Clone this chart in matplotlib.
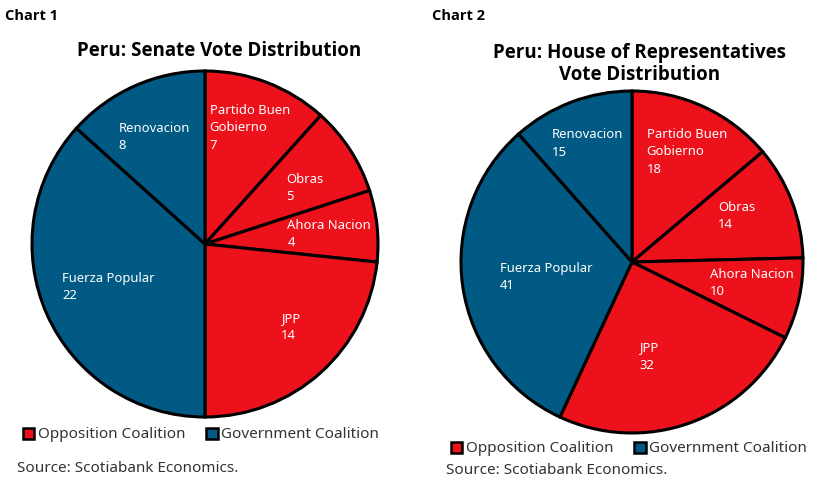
import numpy as np
import matplotlib
matplotlib.use("Agg")
import matplotlib.pyplot as plt
from matplotlib.patches import Patch

plt.rcParams['font.family'] = ['Noto Sans', 'DejaVu Sans']

RED = '#EC111A'
BLUE = '#005A84'

parties = ["Partido Buen\nGobierno", "Obras", "Ahora Nacion", "JPP", "Fuerza Popular", "Renovacion"]
coalition = ["opp", "opp", "opp", "opp", "gov", "gov"]
senate_seats = [7, 5, 4, 14, 22, 8]
house_seats = [18, 14, 10, 32, 41, 15]

# in-slice label placement: fraction of radius, angle shift from slice middle (deg)
senate_label_r = [0.72, 0.66, 0.72, 0.69, 0.61, 0.685]
senate_label_da = [0, -3.5, -1.4, 4, 0, 1.5]
house_label_r = [0.72, 0.67, 0.71, 0.56, 0.51, 0.74]
house_label_da = [-1.5, 3, 2.5, -9.4, 1.7, 0]

colors = [RED if c == "opp" else BLUE for c in coalition]


def draw_pie(ax, seats, label_r, label_da):
    wedges, _ = ax.pie(seats, colors=colors, startangle=90, counterclock=False,
                       wedgeprops=dict(edgecolor='black', linewidth=2.2))
    for w, name, n, r, da in zip(wedges, parties, seats, label_r, label_da):
        mid = np.deg2rad((w.theta1 + w.theta2) / 2 + da)
        ax.text(r*np.cos(mid), r*np.sin(mid), "%s\n%d" % (name, n), color='white',
                ha='center', va='center', multialignment='left', fontsize=9.4,
                linespacing=1.45)
    ax.set_xlim(-1.01, 1.01)
    ax.set_ylim(-1.01, 1.01)
    ax.set_aspect('equal')
    ax.axis('off')


fig = plt.figure(figsize=(8.28, 4.83), dpi=100)
W, H = 828, 483


def px_axes(cx, cy, r):
    r = r*1.01
    return fig.add_axes([(cx - r)/W, 1 - (cy + r)/H, 2*r/W, 2*r/H])


ax1 = px_axes(205, 244, 173)
draw_pie(ax1, senate_seats, senate_label_r, senate_label_da)
ax2 = px_axes(632, 262, 171)
draw_pie(ax2, house_seats, house_label_r, house_label_da)

bold = dict(family='Open Sans', fontweight='bold')
fig.text(5/W, 1 - 16/H, "Chart 1", fontsize=10.5, va='center', **bold)
fig.text(432/W, 1 - 16/H, "Chart 2", fontsize=10.5, va='center', **bold)
fig.text(219/W, 1 - 51/H, "Peru: Senate Vote Distribution", fontsize=13.5,
         ha='center', va='center', **bold)
fig.text(639.5/W, 1 - 64/H, "Peru: House of Representatives\nVote Distribution",
         fontsize=13.5, ha='center', va='center', linespacing=1.15, **bold)

handles = [Patch(facecolor=RED, edgecolor='black', linewidth=1.8),
           Patch(facecolor=BLUE, edgecolor='black', linewidth=1.8)]
labels = ["Opposition Coalition", "Government Coalition"]
for x, y in [(23, 435), (451, 449)]:
    fig.legend(handles, labels, loc='center left', bbox_to_anchor=(x/W, 1 - y/H),
               ncol=2, frameon=False, fontsize=11, handlelength=0.75, handleheight=0.75,
               handletextpad=0.2, columnspacing=1.4, labelcolor='#333333',
               borderpad=0, borderaxespad=0)

fig.text(17/W, 1 - 468/H, "Source: Scotiabank Economics.", fontsize=11,
         color='#333333', va='center')
fig.text(446/W, 1 - 470/H, "Source: Scotiabank Economics.", fontsize=11,
         color='#333333', va='center')

fig.savefig("out.png", dpi=100)
